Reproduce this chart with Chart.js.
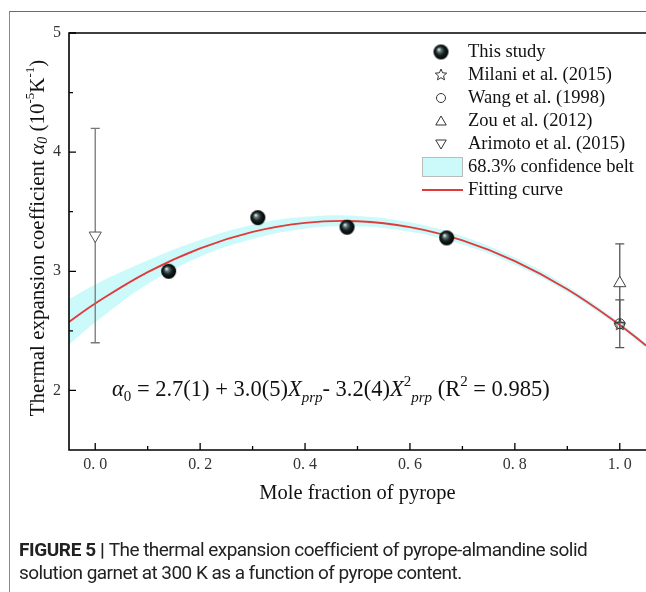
<!DOCTYPE html>
<html>
<head>
<meta charset="utf-8">
<script src="https://cdn.jsdelivr.net/npm/chart.js@4.4.1/dist/chart.umd.min.js"></script>
<style>
  html, body { margin: 0; padding: 0; background: #fff; }
  #frame { position: absolute; left: 9px; top: 11px; width: 640px; height: 590px;
           border-left: 1.5px solid #8a8a8a; border-top: 1.5px solid #6a6a6a; }
  #chart { position: absolute; left: 0; top: 0; }
  #caption { position: absolute; left: 19px; top: 538px; width: 627px; white-space: nowrap;
             font-family: Roboto, "Noto Sans", sans-serif; font-size: 19px; line-height: 23px;
             color: #222; letter-spacing: -0.55px; }
  #caption b { font-weight: 700; letter-spacing: -0.4px; }
</style>
</head>
<body>
<div id="frame"></div>
<canvas id="chart" width="646" height="592"></canvas>
<div id="caption"><b>FIGURE 5 | </b>The thermal expansion coefficient of pyrope-almandine solid<br>solution garnet at 300 K as a function of pyrope content.</div>
<script>
const xTicks = [0, 0.2, 0.4, 0.6, 0.8, 1.0]
const xMinor = [0.1, 0.3, 0.5, 0.7, 0.9]
const yTicks = [2, 3, 4, 5]
const yMinor = [2.5, 3.5, 4.5]

// this study
const studyX = [0.14, 0.31, 0.48, 0.67]
const studyY = [3.00, 3.45, 3.37, 3.28]
const studyErr = [0.02, 0.02, 0.02, 0.02]

// literature values
const milaniX = [1.0]
const milaniY = [2.55]
const wangX = [1.0]
const wangY = [2.56]
const wangErr = [0.2]
const zouX = [1.0]
const zouY = [2.90]
const zouErr = [0.33]
const arimotoX = [0.0]
const arimotoY = [3.3]
const arimotoErr = [0.9]

// fitted curve and 68.3% belt
const fitX = [-0.05, 0, 0.1, 0.2, 0.3, 0.4, 0.5, 0.6, 0.7, 0.8, 0.9, 1.0, 1.05]
const fitY = [2.575, 2.73, 2.993, 3.193, 3.331, 3.407, 3.42, 3.371, 3.259, 3.085, 2.849, 2.55, 2.377]
const beltHigh = [2.765, 2.89, 3.093, 3.263, 3.391, 3.457, 3.465, 3.411, 3.294, 3.115, 2.874, 2.57, 2.397]
const beltLow = [2.385, 2.57, 2.893, 3.123, 3.271, 3.357, 3.375, 3.331, 3.224, 3.055, 2.824, 2.53, 2.357]

const SERIF = '"Liberation Serif", "Times New Roman", serif'
const BELT = 'rgb(204, 250, 250)'
const RED = '#e23a3a'

const pts = (xs, ys) => xs.map((x, i) => ({ x, y: ys[i] }))

function makeBall(r) {
  const c = document.createElement('canvas')
  c.width = c.height = Math.ceil(r * 2 + 2)
  const g = c.getContext('2d')
  const m = c.width / 2
  const grd = g.createRadialGradient(m - r * 0.3, m - r * 0.35, 0.3, m, m, r)
  grd.addColorStop(0, '#f2f7f7')
  grd.addColorStop(0.22, '#6b7c7d')
  grd.addColorStop(0.55, '#152424')
  grd.addColorStop(1, '#000')
  g.fillStyle = grd
  g.beginPath()
  g.arc(m, m, r, 0, Math.PI * 2)
  g.fill()
  return c
}

function makeStar(r) {
  const c = document.createElement('canvas')
  c.width = c.height = r * 2 + 4
  const g = c.getContext('2d')
  const cx = r + 2, cy = r + 2
  g.beginPath()
  for (let i = 0; i < 10; i++) {
    const rad = i % 2 ? r * 0.45 : r
    const a = -Math.PI / 2 + i * Math.PI / 5
    g.lineTo(cx + rad * Math.cos(a), cy + rad * Math.sin(a))
  }
  g.closePath()
  g.strokeStyle = '#333'
  g.lineWidth = 1
  g.stroke()
  return c
}

const ball = makeBall(7.5)
const star = makeStar(6)

function drawErr(chart, xs, ys, es, color, half, width) {
  const ctx = chart.ctx, sx = chart.scales.x, sy = chart.scales.y
  ctx.save()
  ctx.strokeStyle = color
  ctx.lineWidth = width
  xs.forEach((x, i) => {
    const px = sx.getPixelForValue(x)
    const top = sy.getPixelForValue(ys[i] + es[i])
    const bot = sy.getPixelForValue(ys[i] - es[i])
    ctx.beginPath()
    ctx.moveTo(px, top); ctx.lineTo(px, bot)
    ctx.moveTo(px - half, top); ctx.lineTo(px + half, top)
    ctx.moveTo(px - half, bot); ctx.lineTo(px + half, bot)
    ctx.stroke()
  })
  ctx.restore()
}

// rich text: segments {t, it, size, dy}
function segFont(s, base) {
  return (s.it ? 'italic ' : '') + (s.size || base) + 'px ' + SERIF
}
function richWidth(ctx, segs, base) {
  return segs.reduce((w, s) => { ctx.font = segFont(s, base); return w + ctx.measureText(s.t).width }, 0)
}
function drawRich(ctx, segs, x, y, base) {
  segs.forEach(s => {
    ctx.font = segFont(s, base)
    ctx.fillText(s.t, x, y + (s.dy || 0))
    x += ctx.measureText(s.t).width
  })
}

const yTitle = [
  { t: 'Thermal expansion coefficient ' },
  { t: 'α', it: true },
  { t: '0', it: true, size: 14, dy: 5 },
  { t: ' (10' },
  { t: '-5', size: 13, dy: -7 },
  { t: 'K' },
  { t: '-1', size: 13, dy: -7 },
  { t: ')' }
]

const equation = [
  { t: 'α', it: true },
  { t: '0', size: 15, dy: 5 },
  { t: ' = 2.7(1) + 3.0(5)' },
  { t: 'X', it: true },
  { t: 'prp', it: true, size: 15, dy: 6 },
  { t: '- 3.2(4)' },
  { t: 'X', it: true },
  { t: '2', size: 15, dy: -10 },
  { t: 'prp', it: true, size: 15, dy: 6 },
  { t: ' (R' },
  { t: '2', size: 15, dy: -10 },
  { t: ' = 0.985)' }
]

const legendRows = [
  { label: 'This study', kind: 'ball' },
  { label: 'Milani et al. (2015)', kind: 'star' },
  { label: 'Wang et al. (1998)', kind: 'circle' },
  { label: 'Zou et al. (2012)', kind: 'up' },
  { label: 'Arimoto et al. (2015)', kind: 'down' },
  { label: '68.3% confidence belt', kind: 'belt' },
  { label: 'Fitting curve', kind: 'line' }
]

function tri(ctx, x, y, r, down) {
  const s = down ? -1 : 1
  ctx.beginPath()
  ctx.moveTo(x, y - s * r)
  ctx.lineTo(x + r * 0.87, y + s * r * 0.5)
  ctx.lineTo(x - r * 0.87, y + s * r * 0.5)
  ctx.closePath()
  ctx.fillStyle = '#fff'
  ctx.fill()
  ctx.stroke()
}

const decor = {
  id: 'decor',
  afterDatasetDraw(chart, args) {
    // error bars sit above the belt and curve but under the markers
    if (args.index !== 2) return
    drawErr(chart, arimotoX, arimotoY, arimotoErr, '#777', 4.5, 1.3)
    drawErr(chart, zouX, zouY, zouErr, '#555', 4.5, 1.3)
    drawErr(chart, wangX, wangY, wangErr, '#555', 4.5, 1.3)
    drawErr(chart, studyX, studyY, studyErr, '#000', 6, 2)
  },
  afterDraw(chart) {
    const ctx = chart.ctx, a = chart.chartArea
    const sx = chart.scales.x, sy = chart.scales.y
    ctx.save()
    // spines
    ctx.strokeStyle = '#000'
    ctx.lineWidth = 1.6
    ctx.beginPath()
    ctx.moveTo(a.right, a.top); ctx.lineTo(a.left, a.top)
    ctx.lineTo(a.left, a.bottom); ctx.lineTo(a.right, a.bottom)
    ctx.stroke()
    // inward ticks
    ctx.lineWidth = 1.3
    ctx.beginPath()
    xTicks.forEach(v => { const p = sx.getPixelForValue(v); ctx.moveTo(p, a.bottom); ctx.lineTo(p, a.bottom - 7) })
    xMinor.forEach(v => { const p = sx.getPixelForValue(v); ctx.moveTo(p, a.bottom); ctx.lineTo(p, a.bottom - 4) })
    yTicks.forEach(v => { const p = sy.getPixelForValue(v); ctx.moveTo(a.left, p); ctx.lineTo(a.left + 7, p) })
    yMinor.forEach(v => { const p = sy.getPixelForValue(v); ctx.moveTo(a.left, p); ctx.lineTo(a.left + 4, p) })
    ctx.stroke()

    ctx.fillStyle = '#111'
    ctx.textBaseline = 'middle'

    // y axis title
    ctx.save()
    ctx.translate(38, 238)
    ctx.rotate(-Math.PI / 2)
    const w = richWidth(ctx, yTitle, 21)
    drawRich(ctx, yTitle, -w / 2, 0, 21)
    ctx.restore()

    // equation
    ctx.textBaseline = 'alphabetic'
    drawRich(ctx, equation, 112, 396, 22.5)

    // legend
    const lx = 441, tx = 468
    ctx.textBaseline = 'middle'
    legendRows.forEach((r, i) => {
      const y = 52 + i * 23
      ctx.strokeStyle = '#333'
      ctx.lineWidth = 1
      if (r.kind === 'ball') ctx.drawImage(ball, lx - ball.width / 2, y - ball.height / 2)
      if (r.kind === 'star') ctx.drawImage(star, lx - 8, y - 8)
      if (r.kind === 'circle') { ctx.beginPath(); ctx.arc(lx, y, 4.5, 0, Math.PI * 2); ctx.stroke() }
      if (r.kind === 'up') tri(ctx, lx, y + 1, 6, false)
      if (r.kind === 'down') tri(ctx, lx, y - 1, 6, true)
      if (r.kind === 'belt') {
        ctx.fillStyle = BELT
        ctx.fillRect(422, y - 10, 41, 20)
        ctx.strokeStyle = '#bbb'
        ctx.strokeRect(422.5, y - 9.5, 40, 19)
      }
      if (r.kind === 'line') {
        ctx.strokeStyle = RED
        ctx.lineWidth = 2
        ctx.beginPath(); ctx.moveTo(422, y); ctx.lineTo(463, y); ctx.stroke()
      }
      ctx.fillStyle = '#111'
      ctx.font = '18.5px ' + SERIF
      ctx.fillText(r.label, tx, y)
    })
    ctx.restore()
  }
}

const fmt = v => v.toFixed(1).replace('.', '. ')

new Chart(document.getElementById('chart'), {
  type: 'scatter',
  data: {
    datasets: [
      { type: 'line', data: pts(fitX, beltHigh), fill: '+1', backgroundColor: BELT, borderWidth: 0,
        pointRadius: 0, tension: 0.4, order: 5 },
      { type: 'line', data: pts(fitX, beltLow), fill: false, borderWidth: 0, borderColor: BELT,
        pointRadius: 0, tension: 0.4, order: 4 },
      { type: 'line', data: pts(fitX, fitY), borderColor: RED, borderWidth: 1.8, fill: false,
        pointRadius: 0, tension: 0.4, order: 3 },
      { label: 'Arimoto et al. (2015)', data: pts(arimotoX, arimotoY), pointStyle: 'triangle', rotation: 180,
        pointRadius: 7, backgroundColor: '#fff', borderColor: '#555', borderWidth: 1, order: 2 },
      { label: 'Zou et al. (2012)', data: pts(zouX, zouY), pointStyle: 'triangle',
        pointRadius: 7, backgroundColor: '#fff', borderColor: '#444', borderWidth: 1, order: 2 },
      { label: 'Wang et al. (1998)', data: pts(wangX, wangY), pointStyle: 'circle',
        pointRadius: 5, backgroundColor: 'rgba(255,255,255,0)', borderColor: '#333', borderWidth: 1, order: 1 },
      { label: 'Milani et al. (2015)', data: pts(milaniX, milaniY), pointStyle: star, order: 1 },
      { label: 'This study', data: pts(studyX, studyY), pointStyle: ball, order: 0 }
    ]
  },
  options: {
    responsive: false,
    animation: false,
    devicePixelRatio: 1,
    layout: { autoPadding: false, padding: { top: 33, bottom: 82, left: 0, right: 0 } },
    plugins: { legend: { display: false }, tooltip: { enabled: false } },
    scales: {
      x: {
        type: 'linear', min: -0.05, max: 1.05,
        afterBuildTicks: s => { s.ticks = xTicks.map(v => ({ value: v })) },
        afterFit: s => { s.height = 60; s.paddingLeft = 0; s.paddingRight = 0 },
        grid: { display: false, drawTicks: false },
        border: { display: false },
        ticks: { callback: fmt, color: '#333', padding: 5, maxRotation: 0,
                 font: { family: SERIF, size: 16 } },
        title: { display: true, text: 'Mole fraction of pyrope', color: '#111',
                 font: { family: SERIF, size: 20.5 }, padding: { top: 7 } }
      },
      y: {
        type: 'linear', min: 1.5, max: 5,
        afterBuildTicks: s => { s.ticks = yTicks.map(v => ({ value: v })) },
        afterFit: s => { s.width = 69 },
        grid: { display: false, drawTicks: false },
        border: { display: false },
        ticks: { color: '#333', padding: 8, font: { family: SERIF, size: 16 } }
      }
    }
  },
  plugins: [decor]
})
</script>
</body>
</html>
